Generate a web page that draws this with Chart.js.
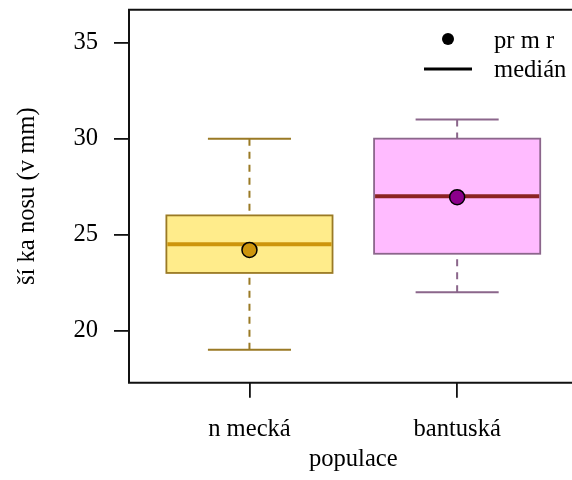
<!DOCTYPE html>
<html>
<head>
<meta charset="utf-8">
<style>
  html, body { margin: 0; padding: 0; background: #ffffff; overflow: hidden; }
  #wrap { width: 572px; height: 480px; overflow: hidden; }
  #c { display: block; }
</style>
<script src="https://cdn.jsdelivr.net/npm/chart.js@4"></script>
</head>
<body>
<div id="wrap"><canvas id="c" width="578" height="480"></canvas></div>
<script>
// Nose width by population: five-number summaries and means
const categories = ['n mecká', 'bantuská'];
const whiskerLow = [19, 22];
const q1 = [23, 24];
const medians = [24.5, 27];
const q3 = [26, 30];
const whiskerHigh = [30, 31];
const means = [24.2, 26.95];
const yTicks = [20, 25, 30, 35];
const legendLabels = ['pr m r', 'medián'];

const boxFill = ['#FFEC8B', '#FFBBFF'];
const boxLine = ['#9A7A25', '#8B668B'];
const medianColor = ['#CD950C', '#8B2323'];
const meanColor = ['#CD950C', '#8B008B'];

const FONT = 'Liberation Serif';
const FONT_SIZE = 24.6;
const BOX_HALF = 0.4;
const CAP_HALF = 0.2;

// Boxes, whiskers and the axis frame, drawn through the chart's scales
const boxplotPlugin = {
  id: 'boxplot',
  beforeDatasetsDraw(chart) {
    const { ctx, scales: { x, y }, chartArea: a } = chart;
    ctx.save();
    categories.forEach((c, i) => {
      const pos = i + 1;
      const xl = x.getPixelForValue(pos - BOX_HALF);
      const xr = x.getPixelForValue(pos + BOX_HALF);
      const xc = x.getPixelForValue(pos);
      const cl = x.getPixelForValue(pos - CAP_HALF);
      const cr = x.getPixelForValue(pos + CAP_HALF);
      const yLo = y.getPixelForValue(whiskerLow[i]);
      const yQ1 = y.getPixelForValue(q1[i]);
      const yMed = y.getPixelForValue(medians[i]);
      const yQ3 = y.getPixelForValue(q3[i]);
      const yHi = y.getPixelForValue(whiskerHigh[i]);

      // whiskers (dashed, from the caps towards the box)
      ctx.strokeStyle = boxLine[i];
      ctx.lineWidth = 2;
      ctx.setLineDash([7, 6]);
      ctx.beginPath();
      ctx.moveTo(xc, yHi); ctx.lineTo(xc, yQ3);
      ctx.moveTo(xc, yLo); ctx.lineTo(xc, yQ1);
      ctx.stroke();
      ctx.setLineDash([]);

      // caps
      ctx.beginPath();
      ctx.moveTo(cl, yHi); ctx.lineTo(cr, yHi);
      ctx.moveTo(cl, yLo); ctx.lineTo(cr, yLo);
      ctx.stroke();

      // box
      ctx.fillStyle = boxFill[i];
      ctx.fillRect(xl, yQ3, xr - xl, yQ1 - yQ3);
      ctx.lineWidth = 1.8;
      ctx.strokeRect(xl, yQ3, xr - xl, yQ1 - yQ3);

      // median
      ctx.strokeStyle = medianColor[i];
      ctx.lineWidth = 4;
      ctx.beginPath();
      ctx.moveTo(xl + 1, yMed); ctx.lineTo(xr - 1, yMed);
      ctx.stroke();
    });

    // frame
    ctx.strokeStyle = '#111111';
    ctx.lineWidth = 2;
    ctx.beginPath();
    ctx.moveTo(a.right, a.top);
    ctx.lineTo(a.left, a.top);
    ctx.lineTo(a.left, a.bottom);
    ctx.lineTo(a.right, a.bottom);
    ctx.stroke();
    ctx.restore();
  },
  afterDraw(chart) {
    const { ctx } = chart;
    ctx.save();
    // legend
    ctx.fillStyle = '#000000';
    ctx.beginPath();
    ctx.arc(448, 39, 6, 0, Math.PI * 2);
    ctx.fill();
    ctx.strokeStyle = '#000000';
    ctx.lineWidth = 3;
    ctx.beginPath();
    ctx.moveTo(424, 69); ctx.lineTo(472, 69);
    ctx.stroke();
    ctx.font = FONT_SIZE + 'px "' + FONT + '"';
    ctx.textAlign = 'left';
    ctx.textBaseline = 'alphabetic';
    ctx.fillText(legendLabels[0], 494, 48);
    ctx.fillText(legendLabels[1], 494, 77);
    ctx.restore();
  }
};

const tickFont = { family: FONT, size: FONT_SIZE };

// keep the plot area fixed: no extra room reserved for edge labels
const noEdgePadding = s => {
  s.paddingTop = 0; s.paddingBottom = 0; s.paddingLeft = 0; s.paddingRight = 0;
};

new Chart(document.getElementById('c'), {
  type: 'scatter',
  data: {
    datasets: [{
      data: means.map((m, i) => ({ x: i + 1, y: m })),
      pointRadius: 7.5,
      pointHoverRadius: 7.5,
      pointBackgroundColor: meanColor,
      pointBorderColor: '#000000',
      pointBorderWidth: 1.5
    }]
  },
  options: {
    responsive: false,
    animation: false,
    devicePixelRatio: 1,
    layout: { autoPadding: false, padding: { top: 9.7, right: 0.4, bottom: 0, left: 0 } },
    plugins: { legend: { display: false }, tooltip: { enabled: false } },
    scales: {
      x: {
        type: 'linear',
        min: 0.42,
        max: 2.58,
        afterBuildTicks: s => { s.ticks = [{ value: 1 }, { value: 2 }]; },
        afterFit: s => { s.height = 480 - 382.7; noEdgePadding(s); },
        grid: { drawOnChartArea: false, drawTicks: true, tickLength: 15, color: '#111111', lineWidth: 1.8 },
        border: { display: false },
        ticks: {
          font: tickFont, color: '#000000', padding: 17, maxRotation: 0, autoSkip: false,
          callback: v => categories[Math.round(v) - 1]
        },
        title: { display: true, text: 'populace', font: tickFont, color: '#000000', padding: { top: 6, bottom: 6 } }
      },
      y: {
        type: 'linear',
        min: 17.28,
        max: 36.72,
        afterBuildTicks: s => { s.ticks = yTicks.map(v => ({ value: v })); },
        afterFit: s => { s.width = 129; noEdgePadding(s); },
        grid: { drawOnChartArea: false, drawTicks: true, tickLength: 15, color: '#111111', lineWidth: 1.8 },
        border: { display: false },
        ticks: { font: tickFont, color: '#000000', padding: 16 },
        title: { display: true, text: 'ší ka nosu (v mm)', font: tickFont, color: '#000000', padding: { top: 13, bottom: 0 } }
      }
    }
  },
  plugins: [boxplotPlugin]
});
</script>
</body>
</html>
